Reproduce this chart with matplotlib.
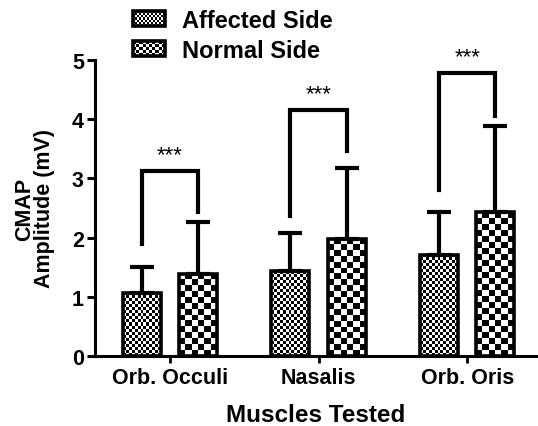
import numpy as np
import matplotlib
matplotlib.use("Agg")
import matplotlib.pyplot as plt
from matplotlib.patches import Rectangle

plt.rcParams['font.family'] = ['Liberation Sans', 'DejaVu Sans']

categories = ['Orb. Occuli', 'Nasalis', 'Orb. Oris']
affected_mean = [1.07, 1.43, 1.71]
affected_sd = [0.44, 0.65, 0.73]
normal_mean = [1.39, 1.98, 2.43]
normal_sd = [0.88, 1.20, 1.46]
bracket_top = [3.13, 4.16, 4.78]
bracket_left_bottom = [1.89, 2.37, 2.81]
bracket_right_bottom = [2.44, 3.47, 4.06]
sig_labels = ['***', '***', '***']
series_names = ['Affected Side', 'Normal Side']
yticks = [0, 1, 2, 3, 4, 5]

W, H, DPI = 538, 427, 100
fig = plt.figure(figsize=(W / DPI, H / DPI), dpi=DPI)
ax = fig.add_axes([95 / W, (H - 357) / H, (537 - 95) / W, (357 - 61) / H])
ax.set_xlim(-0.505, 2.47)
ax.set_ylim(0, 5)
ax.autoscale(False)

x = np.arange(len(categories))
off = 0.19
bw = 0.255
lw_edge = 2.6


def checker(nx, ny):
    return (np.add.outer(np.arange(ny), np.arange(nx)) % 2).astype(float)


def fill_checker(ax, x0, x1, y0, y1, cell_px):
    tr = ax.transData
    (px0, py0) = tr.transform((x0, y0))
    (px1, py1) = tr.transform((x1, y1))
    nx = max(1, int(round(abs(px1 - px0) / cell_px)))
    ny = max(1, int(round(abs(py1 - py0) / cell_px)))
    img = checker(nx, ny)
    ax.imshow(img, cmap='gray', vmin=0, vmax=1, extent=(x0, x1, y0, y1),
              origin='lower', aspect='auto', interpolation='nearest', zorder=1)


for means, sds, sign, cell in [(affected_mean, affected_sd, -1, 3),
                               (normal_mean, normal_sd, 1, 6)]:
    xs = x + sign * off
    bars = ax.bar(xs, means, width=bw, facecolor='none', edgecolor='black',
                  linewidth=lw_edge, zorder=3)
    for b in bars:
        fill_checker(ax, b.get_x(), b.get_x() + b.get_width(), 0, b.get_height(), cell)
    ax.errorbar(xs, means, yerr=[np.zeros(len(sds)), sds], fmt='none',
                ecolor='black', elinewidth=3, capsize=8.5, capthick=3, zorder=2)

for i in range(len(categories)):
    xl, xr = x[i] - off, x[i] + off
    ax.plot([xl, xl, xr, xr],
            [bracket_left_bottom[i], bracket_top[i], bracket_top[i], bracket_right_bottom[i]],
            color='black', lw=3, solid_capstyle='projecting', solid_joinstyle='miter', zorder=4)
    ax.text(x[i], bracket_top[i] + 0.1, sig_labels[i], ha='center', va='bottom',
            fontsize=16, color='black')

for s in ['top', 'right']:
    ax.spines[s].set_visible(False)
for s in ['left', 'bottom']:
    ax.spines[s].set_linewidth(2.2)

ax.set_yticks(yticks)
ax.set_xticks(x)
ax.set_xticklabels(categories, fontsize=15.5, fontweight='bold')
ax.tick_params(axis='y', length=6, width=2.2, labelsize=15.5, pad=2)
ax.tick_params(axis='x', length=5, width=2, pad=3)
for t in ax.get_yticklabels():
    t.set_fontweight('bold')

ax.set_xlabel('Muscles Tested', fontsize=17.5, fontweight='bold', labelpad=11)
ax.set_ylabel('CMAP\nAmplitude (mV)', fontsize=15.5, fontweight='bold', labelpad=12,
              linespacing=0.92)

# legend in pixel coordinates
lg = fig.add_axes([0, 0, 1, 1], zorder=5)
lg.set_xlim(0, W)
lg.set_ylim(H, 0)
lg.axis('off')
lg.patch.set_alpha(0)
for j, (name, cell) in enumerate(zip(series_names, [2, 3])):
    y0 = 12 + j * 30
    x0, x1, y1 = 133, 165, y0 + 15
    nx = int((x1 - x0) / cell)
    ny = int((y1 - y0) / cell)
    lg.imshow(checker(nx, ny), cmap='gray', vmin=0, vmax=1, extent=(x0, x1, y1, y0),
              aspect='auto', interpolation='nearest', zorder=1)
    lg.add_patch(Rectangle((x0, y0), x1 - x0, y1 - y0, facecolor='none',
                           edgecolor='black', linewidth=2.6, zorder=2))
    lg.text(182, (y0 + y1) / 2 + 2, name, ha='left', va='center', fontsize=17,
            fontweight='bold')
lg.set_xlim(0, W)
lg.set_ylim(H, 0)

fig.savefig('out.png', dpi=DPI)
